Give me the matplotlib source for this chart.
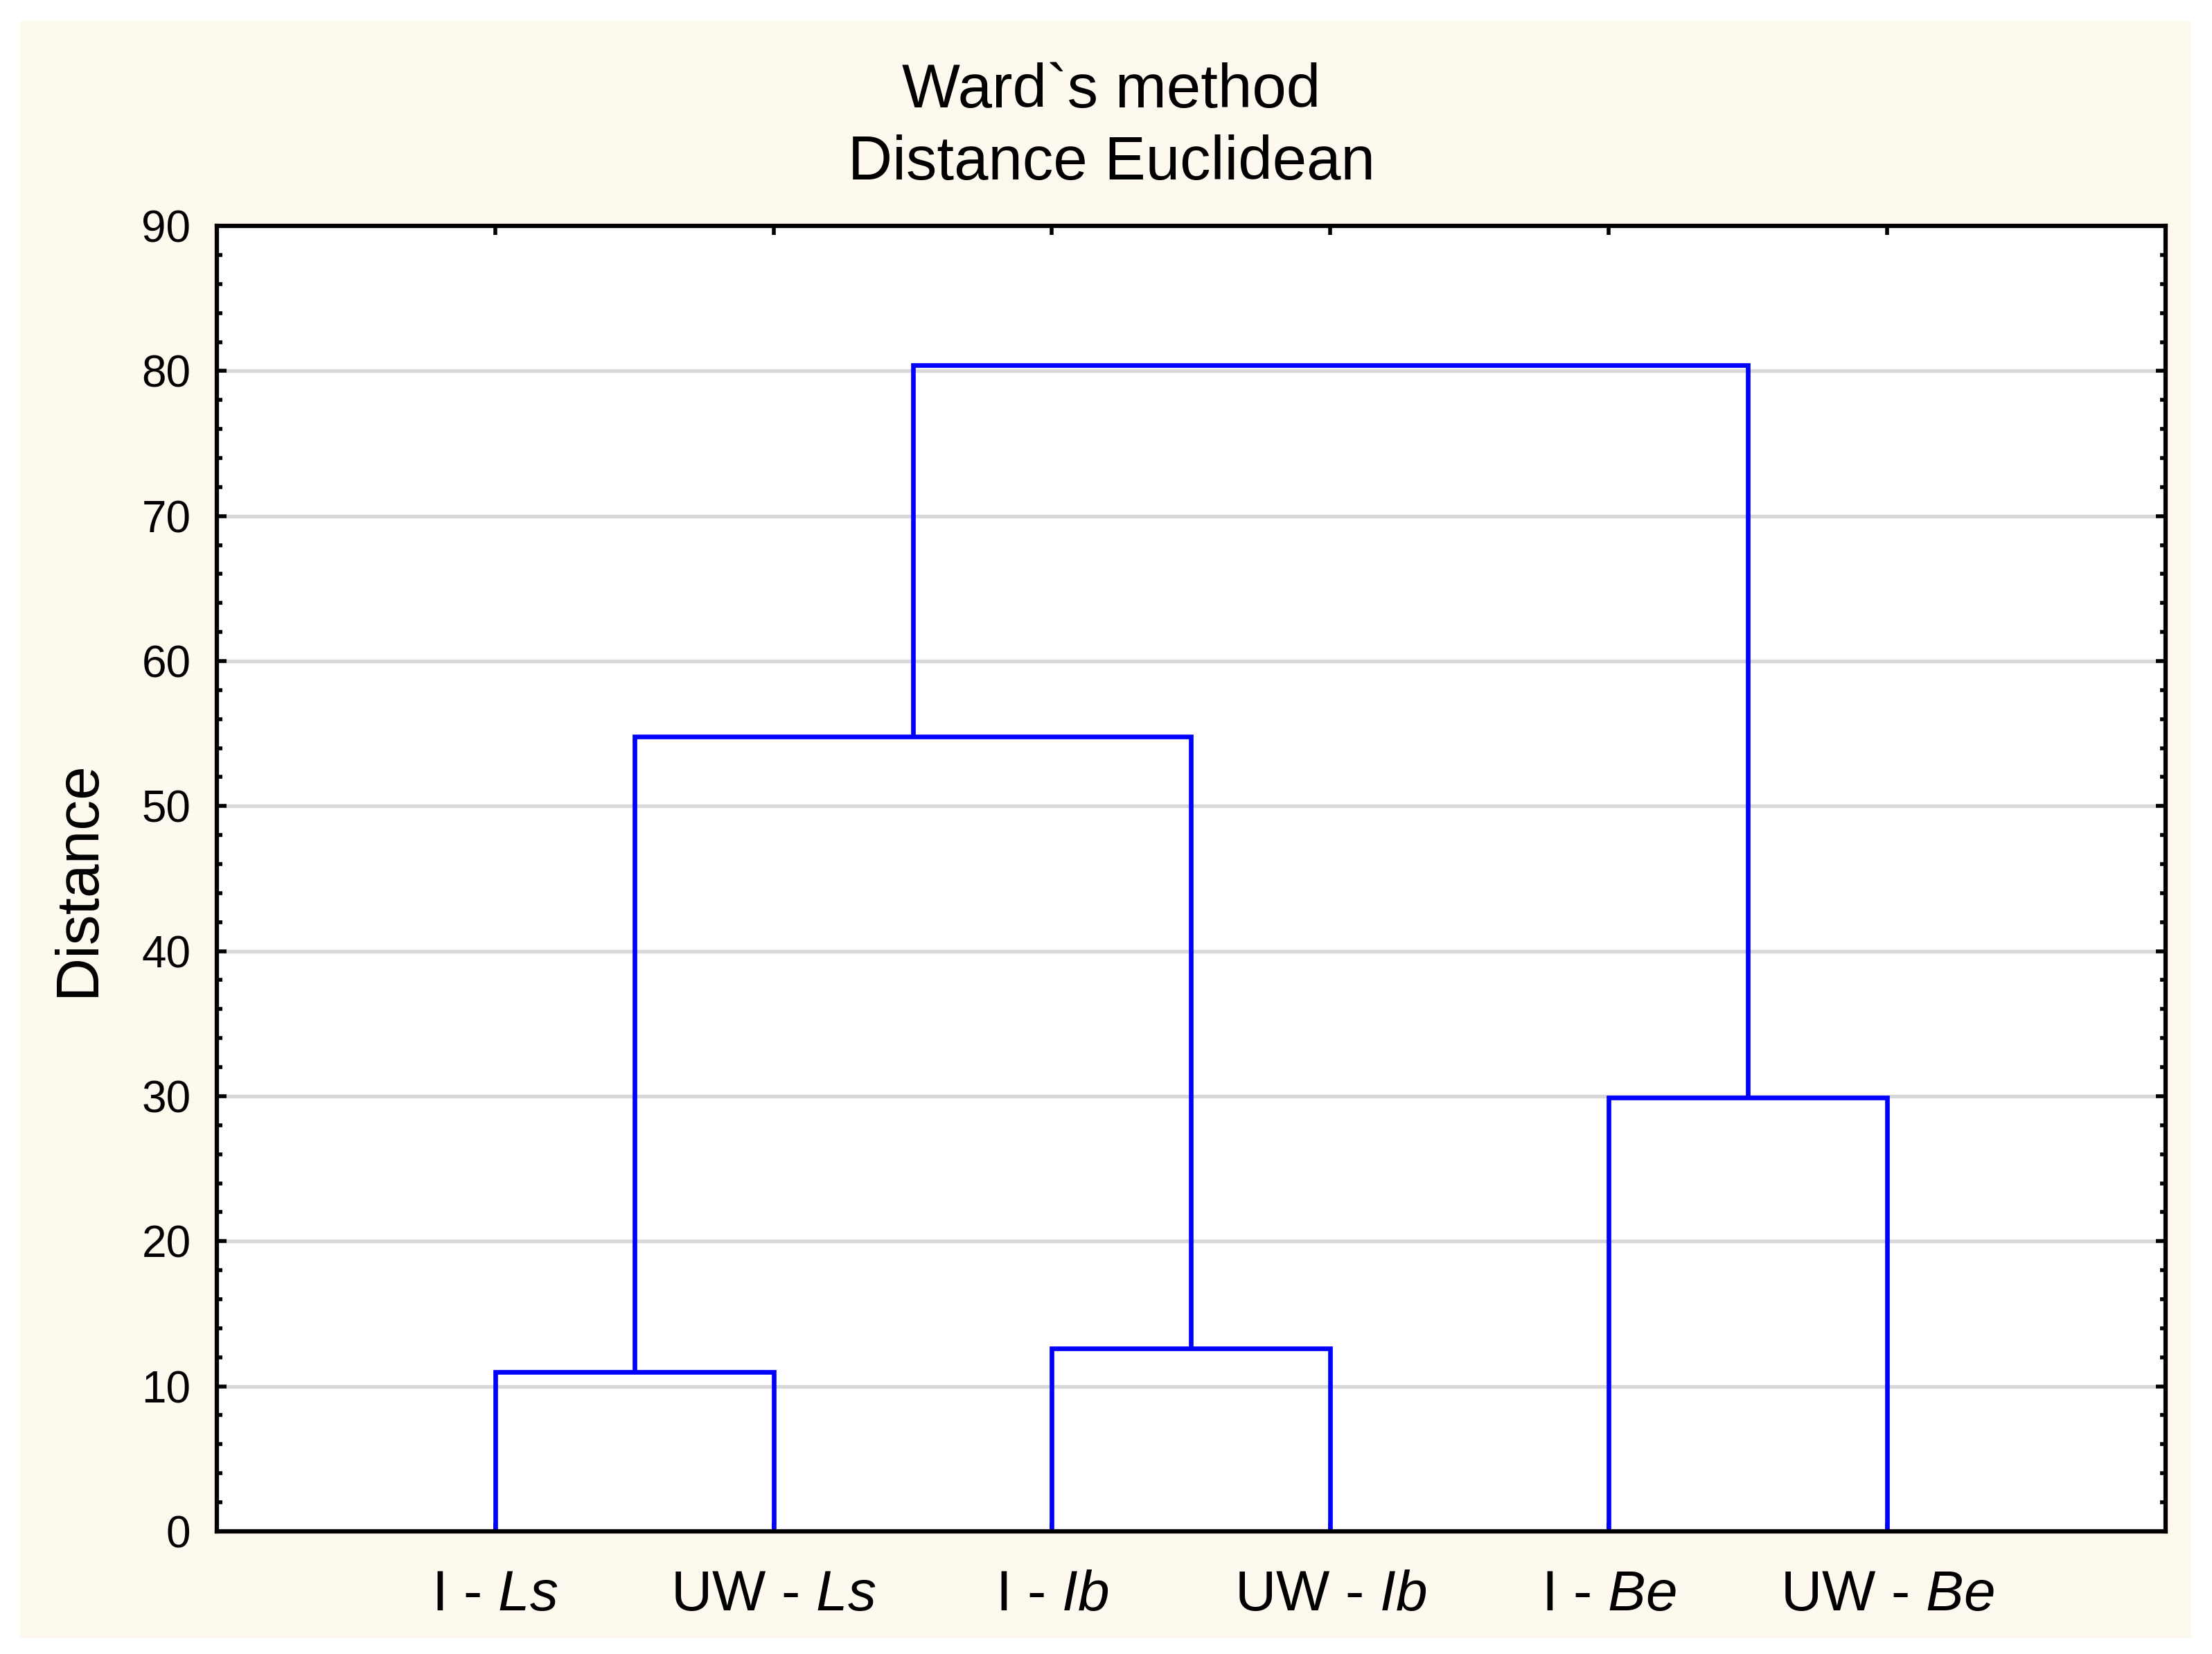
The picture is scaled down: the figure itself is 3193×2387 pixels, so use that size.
import matplotlib
matplotlib.use("Agg")
import matplotlib.pyplot as plt
from matplotlib.patches import Rectangle
from matplotlib.ticker import MultipleLocator
import numpy as np

plt.rcParams['font.family'] = ['Liberation Sans', 'DejaVu Sans']
plt.rcParams['mathtext.fontset'] = 'custom'
plt.rcParams['mathtext.rm'] = 'Liberation Sans'
plt.rcParams['mathtext.it'] = 'Liberation Sans:italic'

# hojas del dendrograma (prefijo, parte en cursiva)
prefijos = ['I', 'UW', 'I', 'UW', 'I', 'UW']
especies = ['Ls', 'Ls', 'Ib', 'Ib', 'Be', 'Be']

# uniones: indice izquierdo, indice derecho, altura (estilo linkage: 0-5 hojas, 6.. clusters)
union_izq = [0, 2, 4, 6, 9]
union_der = [1, 3, 5, 7, 8]
alturas = [11.0, 12.6, 29.9, 54.8, 80.4]

AZUL = '#0000FF'
CREMA = '#FEF9EE'

fig = plt.figure(figsize=(31.93, 23.87), dpi=100, facecolor='white')
fig.patches.append(Rectangle((0.0091, 0.0096), 0.9815, 0.9778,
                             transform=fig.transFigure, facecolor=CREMA,
                             edgecolor='none', zorder=-10))
ax = fig.add_axes([0.0980, 0.0742, 0.8810, 0.7892])
ax.set_facecolor('white')

# posiciones de cada nodo
pos_x = list(range(1, len(prefijos) + 1))
pos_y = [0.0] * len(prefijos)
for a, b, h in zip(union_izq, union_der, alturas):
    xa, ya = pos_x[a], pos_y[a]
    xb, yb = pos_x[b], pos_y[b]
    ax.plot([xa, xa, xb, xb], [ya, h, h, yb], color=AZUL, lw=4.8,
            solid_joinstyle='miter', solid_capstyle='butt', zorder=3,
            clip_on=False)
    pos_x.append((xa + xb) / 2)
    pos_y.append(h)

ax.set_xlim(0, 7)
ax.set_ylim(0, 90)

etiquetas = [p + ' - ' + r'$\mathit{' + e + '}$' for p, e in zip(prefijos, especies)]
ax.set_xticks(range(1, len(prefijos) + 1))
ax.set_xticklabels(etiquetas, fontsize=59)
ax.yaxis.set_major_locator(MultipleLocator(10))
ax.yaxis.set_minor_locator(MultipleLocator(2))
ax.tick_params(axis='y', which='major', direction='in', length=10, width=4,
               labelsize=46, pad=27, left=True, right=True)
ax.tick_params(axis='y', which='minor', direction='in', length=6, width=4,
               left=True, right=True)
ax.tick_params(axis='x', which='major', direction='in', length=9, width=4,
               pad=40, top=True, bottom=True)
ax.tick_params(axis='x', which='minor', bottom=False, top=False)

for y in range(10, 90, 10):
    ax.axhline(y, color='#D8D8D8', lw=3.8, zorder=1)

for s in ax.spines.values():
    s.set_linewidth(4.5)
    s.set_zorder(5)

ax.set_ylabel('Distance', fontsize=63)
ax.yaxis.set_label_coords(-0.0567, 0.5)

fig.text(0.5025, 1 - 132 / 2387, 'Ward`s method', fontsize=64, ha='center', va='center')
fig.text(0.5025, 1 - 236 / 2387, 'Distance Euclidean', fontsize=64, ha='center', va='center')

plt.savefig('out.png', dpi=100, facecolor='white')
